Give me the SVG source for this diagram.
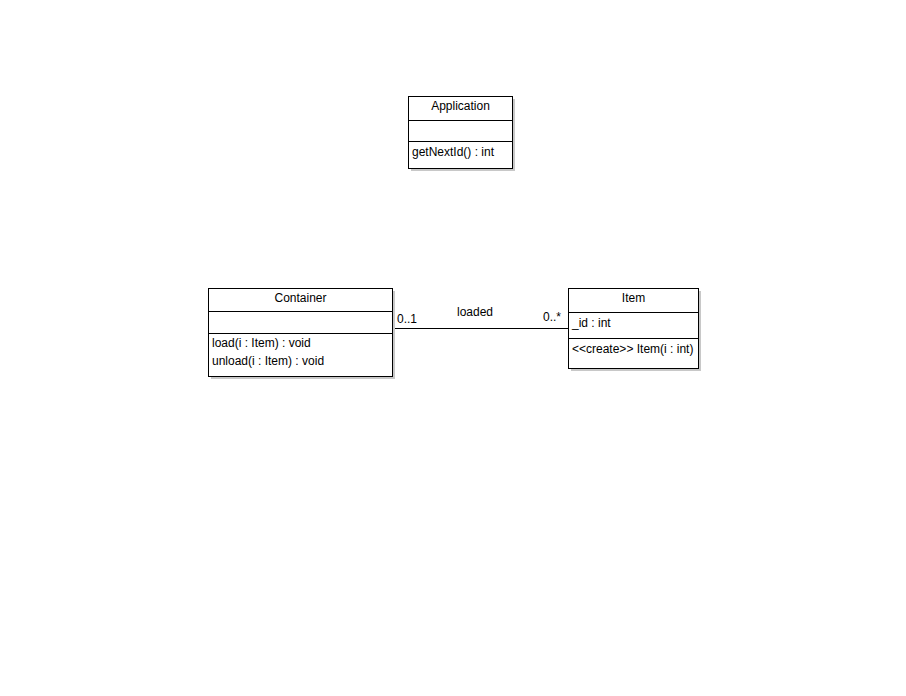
<svg xmlns="http://www.w3.org/2000/svg" width="906" height="696" viewBox="0 0 906 696">
<style>
.box{fill:#ffffff;stroke:#000000;stroke-width:1}
.sh{fill:#c8c8c8;stroke:none}
.ln{stroke:#000000;stroke-width:1;fill:none}
text{font-family:"Liberation Sans",Arial,sans-serif;font-size:12px;fill:#000000}
.c{text-anchor:middle}
</style>
<rect width="906" height="696" fill="#ffffff"/>
<g id="connectors">
<line class="ln" x1="392.5" y1="328.5" x2="568.5" y2="328.5"/>
<text x="397" y="323">0..1</text>
<text class="c" x="475" y="316">loaded</text>
<text x="543" y="321">0..*</text>
</g>
<g id="Application">
<rect class="sh" x="411" y="99" width="104" height="72"/>
<rect class="box" x="408.5" y="96.5" width="104" height="72"/>
<line class="ln" x1="408.5" y1="120.5" x2="512.5" y2="120.5"/>
<line class="ln" x1="408.5" y1="141.5" x2="512.5" y2="141.5"/>
<text class="c" x="460.5" y="110">Application</text>
<text x="412" y="156">getNextId() : int</text>
</g>
<g id="Container">
<rect class="sh" x="211" y="291" width="184" height="88"/>
<rect class="box" x="208.5" y="288.5" width="184" height="88"/>
<line class="ln" x1="208.5" y1="311.5" x2="392.5" y2="311.5"/>
<line class="ln" x1="208.5" y1="333.5" x2="392.5" y2="333.5"/>
<text class="c" x="300.5" y="302">Container</text>
<text x="212" y="347">load(i : Item) : void</text>
<text x="212" y="365">unload(i : Item) : void</text>
</g>
<g id="Item">
<rect class="sh" x="571" y="291" width="130" height="80"/>
<rect class="box" x="568.5" y="288.5" width="130" height="80"/>
<line class="ln" x1="568.5" y1="312.5" x2="698.5" y2="312.5"/>
<line class="ln" x1="568.5" y1="338.5" x2="698.5" y2="338.5"/>
<text class="c" x="633.5" y="302">Item</text>
<text x="572" y="327">_id : int</text>
<text x="572" y="353">&lt;&lt;create&gt;&gt; Item(i : int)</text>
</g>
</svg>
